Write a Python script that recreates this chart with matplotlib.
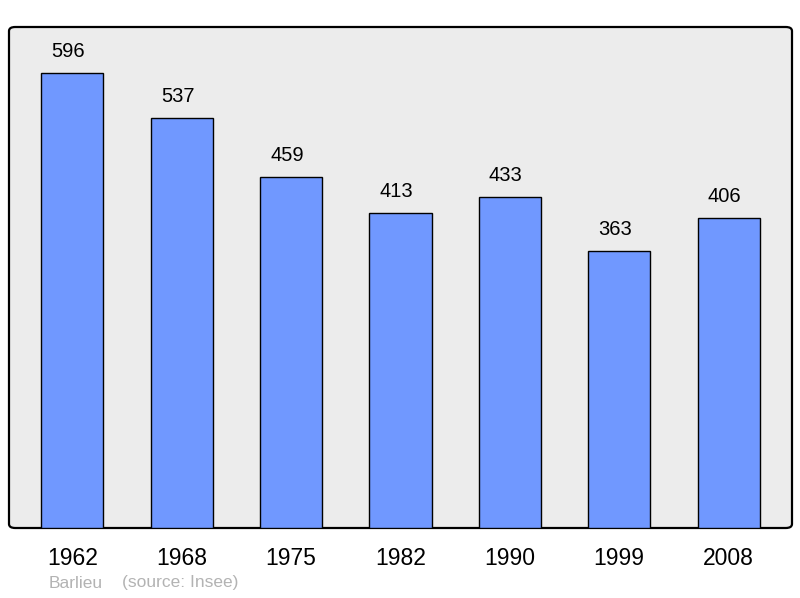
import matplotlib
matplotlib.use("Agg")
import matplotlib.pyplot as plt
from matplotlib.patches import FancyBboxPatch

years = ["1962", "1968", "1975", "1982", "1990", "1999", "2008"]
population = [596, 537, 459, 413, 433, 363, 406]

plt.rcParams["font.family"] = ["Liberation Sans", "DejaVu Sans"]

fig = plt.figure(figsize=(8, 5.98), dpi=100)
ax = fig.add_axes([9 / 800, 1 - 528 / 598, 783 / 800, 501 / 598])
ax.set_facecolor("none")
ax.set_xlim(-0.58, 6.58)
ax.set_ylim(0, 656)

# rounded background frame
frame = FancyBboxPatch((0, 0), 1, 1, boxstyle="round,pad=0,rounding_size=0.008",
                       transform=ax.transAxes, facecolor="#ececec",
                       edgecolor="black", linewidth=1.6, zorder=0, clip_on=False)
ax.add_patch(frame)

x = range(len(years))
bars = ax.bar(x, population, width=0.567, color="#7098ff",
              edgecolor="black", linewidth=1.0, zorder=2)

# value labels sit a little left of the bar centre, as in the original
for xi, v in zip(x, population):
    ax.annotate(str(v), (xi, v), xytext=(-3, 15.5), textcoords="offset points",
                ha="center", va="center", fontsize=14.5, color="black")

for spine in ax.spines.values():
    spine.set_visible(False)
ax.set_xticks(list(x))
ax.set_xticklabels(years, fontsize=16.5)
ax.tick_params(axis="x", length=0, pad=14)
ax.set_yticks([])

fig.text(49 / 800, 1 - 583 / 598, "Barlieu", fontsize=12.5, color="#b3b3b3",
         va="center", ha="left")
fig.text(122 / 800, 1 - 583 / 598, "(source: Insee)", fontsize=12.5,
         color="#b3b3b3", va="center", ha="left")

fig.savefig("out.png", dpi=100, facecolor="white")
